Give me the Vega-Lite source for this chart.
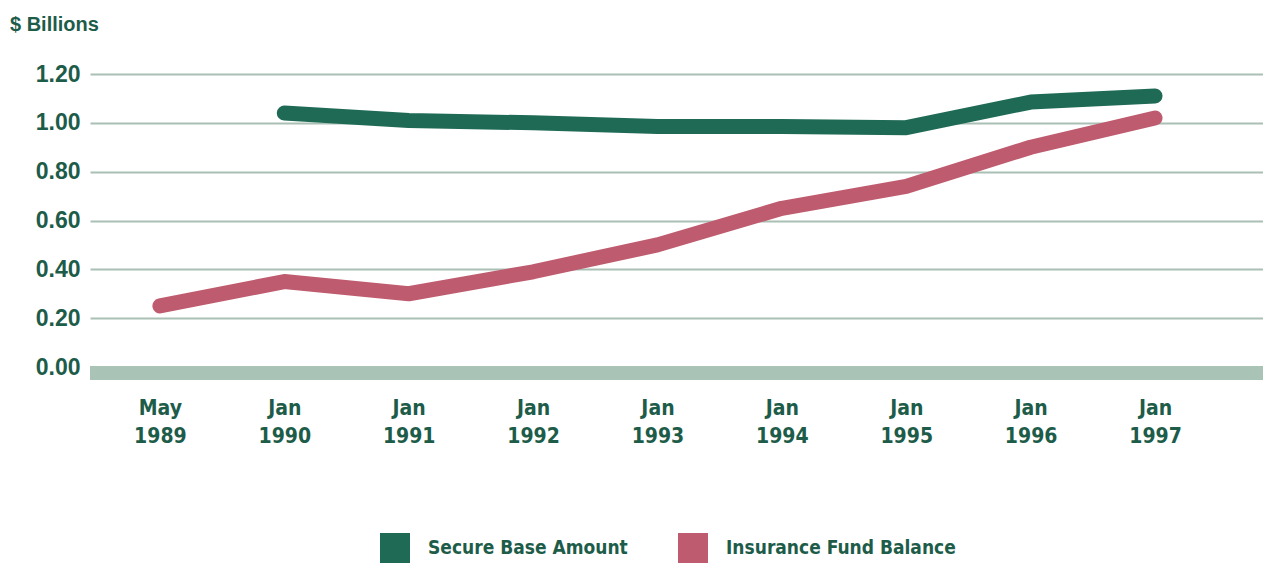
{
  "$schema": "https://vega.github.io/schema/vega-lite/v6.json",
  "width": 1173,
  "height": 293,
  "autosize": {"type": "none"},
  "padding": {"left": 90, "top": 74, "right": 0, "bottom": 199},
  "background": "white",
  "title": {
    "text": "$ Billions",
    "anchor": "start",
    "frame": "group",
    "orient": "top",
    "offset": 12,
    "dx": -80,
    "baseline": "alphabetic",
    "font": "Liberation Sans",
    "fontSize": 20,
    "fontWeight": "bold",
    "color": "#1d5c49"
  },
  "config": {"view": {"stroke": null}},
  "data": {
    "values": [
      {"period": "May 1989", "series": "Insurance Fund Balance", "value": 0.25},
      {"period": "Jan 1990", "series": "Insurance Fund Balance", "value": 0.35},
      {"period": "Jan 1991", "series": "Insurance Fund Balance", "value": 0.30},
      {"period": "Jan 1992", "series": "Insurance Fund Balance", "value": 0.39},
      {"period": "Jan 1993", "series": "Insurance Fund Balance", "value": 0.50},
      {"period": "Jan 1994", "series": "Insurance Fund Balance", "value": 0.65},
      {"period": "Jan 1995", "series": "Insurance Fund Balance", "value": 0.74},
      {"period": "Jan 1996", "series": "Insurance Fund Balance", "value": 0.90},
      {"period": "Jan 1997", "series": "Insurance Fund Balance", "value": 1.02},
      {"period": "Jan 1990", "series": "Secure Base Amount", "value": 1.04},
      {"period": "Jan 1991", "series": "Secure Base Amount", "value": 1.01},
      {"period": "Jan 1992", "series": "Secure Base Amount", "value": 1.00},
      {"period": "Jan 1993", "series": "Secure Base Amount", "value": 0.985},
      {"period": "Jan 1994", "series": "Secure Base Amount", "value": 0.985},
      {"period": "Jan 1995", "series": "Secure Base Amount", "value": 0.98},
      {"period": "Jan 1996", "series": "Secure Base Amount", "value": 1.085},
      {"period": "Jan 1997", "series": "Secure Base Amount", "value": 1.11}
    ]
  },
  "layer": [
    {
      "mark": {"type": "rule", "color": "#a9c3b7", "strokeWidth": 13, "yOffset": 6},
      "encoding": {"y": {"datum": 0}}
    },
    {
      "mark": {"type": "line", "strokeWidth": 15, "strokeCap": "round", "strokeJoin": "round"},
      "encoding": {
        "x": {
          "field": "period",
          "type": "ordinal",
          "sort": ["May 1989", "Jan 1990", "Jan 1991", "Jan 1992", "Jan 1993", "Jan 1994", "Jan 1995", "Jan 1996", "Jan 1997"],
          "scale": {"type": "point", "padding": 0.715, "align": 0.393},
          "axis": {
            "title": null,
            "domain": false,
            "ticks": false,
            "grid": false,
            "labelAngle": 0,
            "labelExpr": "split(datum.label, ' ')",
            "labelFont": "DejaVu Sans Condensed, sans-serif",
            "labelFontSize": 21,
            "labelFontWeight": "bold",
            "labelLineHeight": 28,
            "labelColor": "#1d5c49",
            "labelPadding": 30
          }
        },
        "y": {
          "field": "value",
          "type": "quantitative",
          "scale": {"domain": [0, 1.2], "nice": false, "zero": true},
          "axis": {
            "title": null,
            "values": [0, 0.2, 0.4, 0.6, 0.8, 1.0, 1.2],
            "format": ".2f",
            "domain": false,
            "ticks": false,
            "grid": true,
            "gridColor": "#abc0b5",
            "gridWidth": 2,
            "labelFont": "Liberation Sans",
            "labelFontSize": 23,
            "labelFontWeight": "bold",
            "labelColor": "#1d5c49",
            "labelPadding": 10
          }
        },
        "color": {
          "field": "series",
          "type": "nominal",
          "scale": {"domain": ["Secure Base Amount", "Insurance Fund Balance"], "range": ["#1f6a55", "#bf5b6f"]},
          "legend": {
            "title": null,
            "orient": "none",
            "legendX": 290,
            "legendY": 459,
            "direction": "horizontal",
            "symbolType": "square",
            "symbolSize": 900,
            "symbolStrokeWidth": 0,
            "labelFont": "DejaVu Sans Condensed, sans-serif",
            "labelFontSize": 19,
            "labelFontWeight": "bold",
            "labelColor": "#1d5c49",
            "labelOffset": 18,
            "columnPadding": 50,
            "labelLimit": 400,
            "encode": {
              "symbols": {
                "update": {
                  "fill": {"scale": "color", "field": "value"},
                  "strokeWidth": {"value": 0}
                }
              }
            }
          }
        }
      }
    }
  ]
}
